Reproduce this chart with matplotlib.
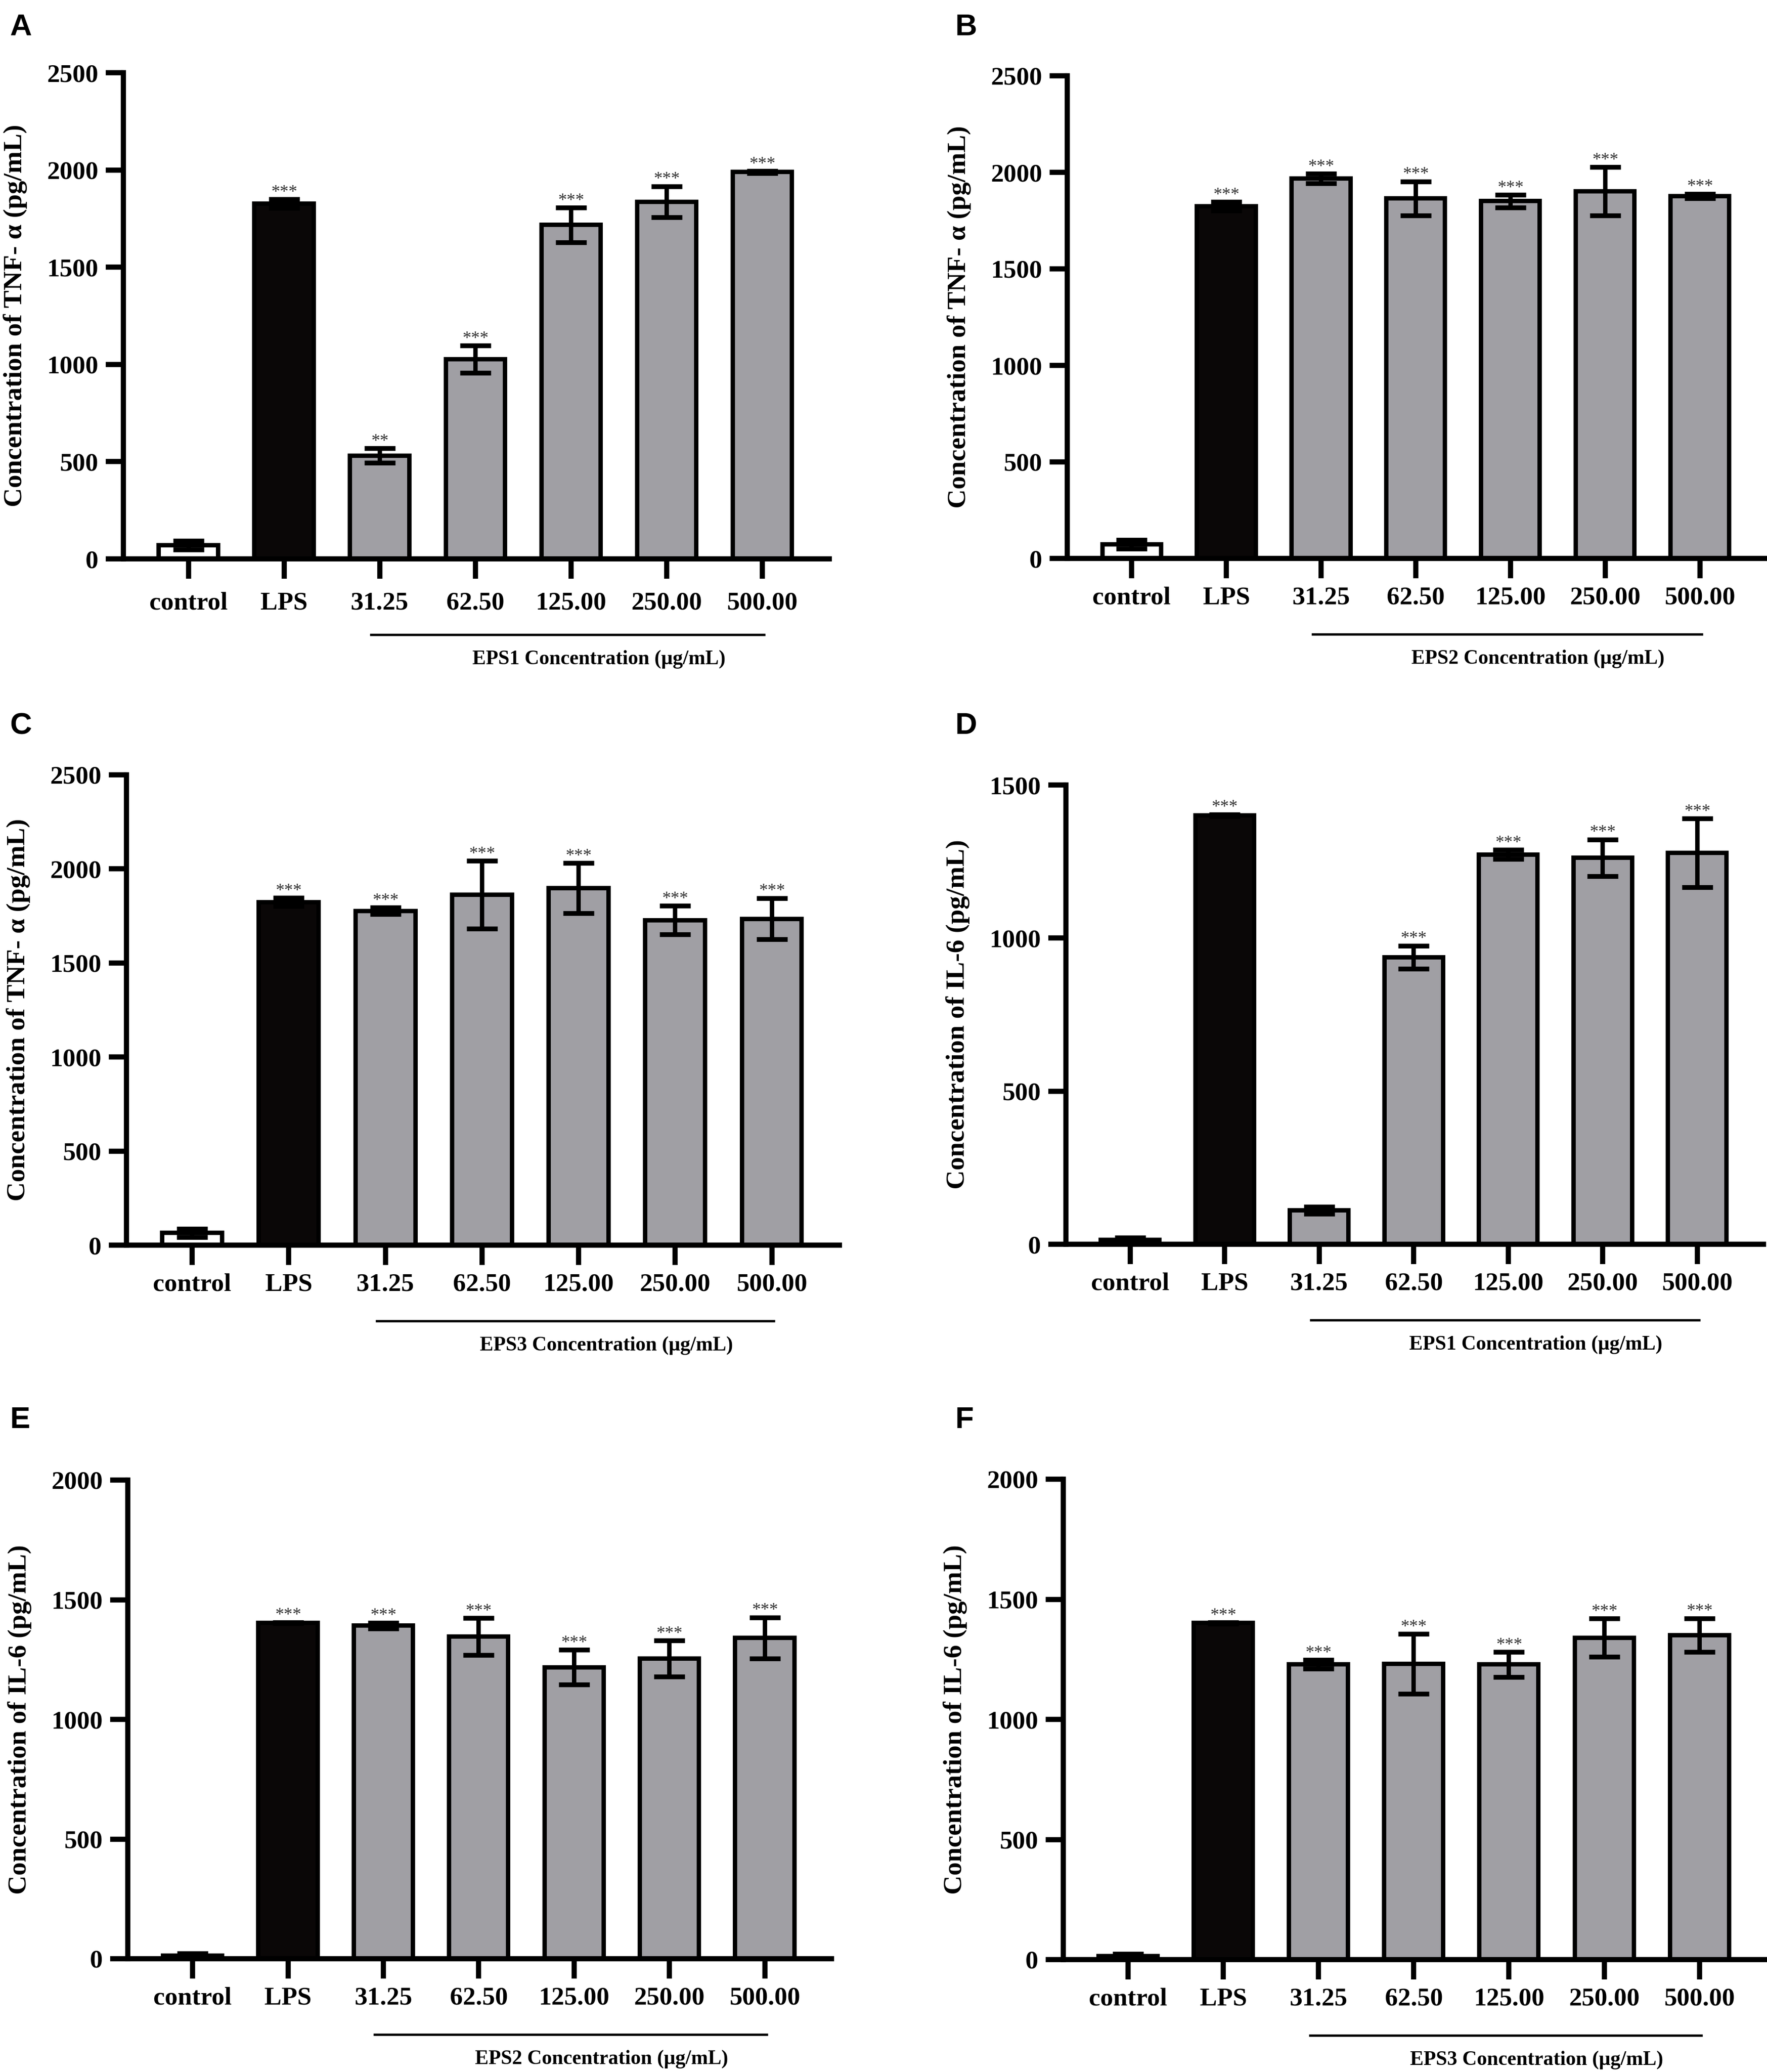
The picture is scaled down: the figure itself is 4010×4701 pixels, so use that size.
import matplotlib
matplotlib.use("Agg")
import matplotlib.pyplot as plt
import matplotlib.transforms as mtransforms
import numpy as np

plt.rcParams['font.family'] = ['Liberation Serif', 'DejaVu Serif']
plt.rcParams['font.weight'] = 'bold'

groups = ['control', 'LPS', '31.25', '62.50', '125.00', '250.00', '500.00']

# TNF-alpha, panels A-C
tnf_eps1_mean = [70, 1827, 531, 1027, 1717, 1836, 1989]
tnf_eps1_err = [22, 22, 37, 70, 90, 80, 5]
tnf_eps1_sig = ['', '***', '**', '***', '***', '***', '***']

tnf_eps2_mean = [74, 1824, 1968, 1865, 1851, 1902, 1877]
tnf_eps2_err = [23, 23, 25, 88, 33, 125, 12]
tnf_eps2_sig = ['', '***', '***', '***', '***', '***', '***']

tnf_eps3_mean = [65, 1824, 1777, 1862, 1898, 1727, 1735]
tnf_eps3_err = [22, 22, 18, 180, 133, 76, 110]
tnf_eps3_sig = ['', '***', '***', '***', '***', '***', '***']

# IL-6, panels D-F
il6_eps1_mean = [15, 1401, 111, 937, 1273, 1262, 1278]
il6_eps1_err = [7, 3, 11, 38, 15, 60, 112]
il6_eps1_sig = ['', '***', '', '***', '***', '***', '***']

il6_eps2_mean = [13, 1404, 1392, 1346, 1218, 1254, 1340]
il6_eps2_err = [10, 2, 12, 78, 73, 76, 86]
il6_eps2_sig = ['', '***', '***', '***', '***', '***', '***']

il6_eps3_mean = [14, 1401, 1229, 1231, 1229, 1340, 1351]
il6_eps3_err = [10, 2, 18, 125, 52, 80, 70]
il6_eps3_sig = ['', '***', '***', '***', '***', '***', '***']

W, H = 4011, 4701
DPI = 300
fig = plt.figure(figsize=(W / DPI, H / DPI), dpi=DPI)


def add_axes_px(left, right, top, bottom):
    return fig.add_axes([left / W, 1 - bottom / H, (right - left) / W, (bottom - top) / H])


def draw_panel(ax, means, errs, sigs, ymax, ylabel, group_label, xpad=4.5):
    x = np.arange(len(groups))
    colors = ['white', '#0a0707'] + ['#a09fa4'] * 5
    ax.bar(x, means, width=0.62, color=colors, edgecolor='black', linewidth=2.4, zorder=2)
    ax.errorbar(x, means, yerr=errs, fmt='none', ecolor='black', elinewidth=2.4,
                capsize=8.5, capthick=2.6, zorder=3)
    for i in range(len(groups)):
        if sigs[i]:
            ax.annotate(sigs[i], (x[i], means[i] + errs[i]), xytext=(0, 1.5),
                        textcoords='offset points', ha='center', va='baseline',
                        fontsize=9.5, color='#333333', fontweight='normal', zorder=4)
    ax.set_xlim(-0.68, 6.70)
    ax.set_ylim(0, ymax)
    ax.set_yticks(np.arange(0, ymax + 1, 500))
    ax.set_xticks(x, groups)
    for side in ['top', 'right']:
        ax.spines[side].set_visible(False)
    for side in ['left', 'bottom']:
        ax.spines[side].set_linewidth(2.8)
    ax.tick_params(axis='x', length=10.8, width=2.8, pad=xpad, labelsize=14)
    ax.tick_params(axis='y', length=9.6, width=2.8, pad=4, labelsize=14)
    ax.patch.set_alpha(0)

    width_px = ax.get_position().width * W
    ax.text(-245 / width_px, 0.5, ylabel, transform=ax.transAxes, rotation=90,
            ha='center', va='center', fontsize=14.5, fontweight='bold')

    # bracket line under the EPS concentrations
    line_tr = ax.get_xaxis_transform() + mtransforms.ScaledTranslation(0, -172 / DPI, fig.dpi_scale_trans)
    ax.plot([1.91, 6.02], [0, 0], color='black', lw=1.3, transform=line_tr, clip_on=False)
    lab_tr = ax.get_xaxis_transform() + mtransforms.ScaledTranslation(0, -228 / DPI, fig.dpi_scale_trans)
    ax.text(4.29, 0, group_label, transform=lab_tr, ha='center', va='center',
            fontsize=11, fontweight='bold')


tnf_label = 'Concentration of TNF- α (pg/mL)'
il6_label = 'Concentration of IL-6 (pg/mL)'

axA = add_axes_px(280, 1882, 165, 1268)
draw_panel(axA, tnf_eps1_mean, tnf_eps1_err, tnf_eps1_sig, 2500, tnf_label,
           'EPS1 Concentration (μg/mL)', xpad=7)
axB = add_axes_px(2422, 4008, 172, 1267)
draw_panel(axB, tnf_eps2_mean, tnf_eps2_err, tnf_eps2_sig, 2500, tnf_label, 'EPS2 Concentration (μg/mL)')
axC = add_axes_px(287, 1905, 1758, 2825)
draw_panel(axC, tnf_eps3_mean, tnf_eps3_err, tnf_eps3_sig, 2500, tnf_label, 'EPS3 Concentration (μg/mL)')
axD = add_axes_px(2419, 4002, 1781, 2823)
draw_panel(axD, il6_eps1_mean, il6_eps1_err, il6_eps1_sig, 1500, il6_label, 'EPS1 Concentration (μg/mL)')
axE = add_axes_px(290, 1887, 3358, 4444)
draw_panel(axE, il6_eps2_mean, il6_eps2_err, il6_eps2_sig, 2000, il6_label, 'EPS2 Concentration (μg/mL)')
axF = add_axes_px(2413, 4008, 3356, 4446)
draw_panel(axF, il6_eps3_mean, il6_eps3_err, il6_eps3_sig, 2000, il6_label, 'EPS3 Concentration (μg/mL)')

letters = [('A', 22, 30), ('B', 2167, 30), ('C', 22, 1615), ('D', 2167, 1615),
           ('E', 22, 3190), ('F', 2167, 3190)]
for letter, lx, ly in letters:
    fig.text(lx / W, 1 - ly / H, letter, ha='left', va='top', fontsize=16.5,
             fontweight='bold', family=['Liberation Sans', 'DejaVu Sans'])

fig.savefig('out.png', dpi=DPI)
